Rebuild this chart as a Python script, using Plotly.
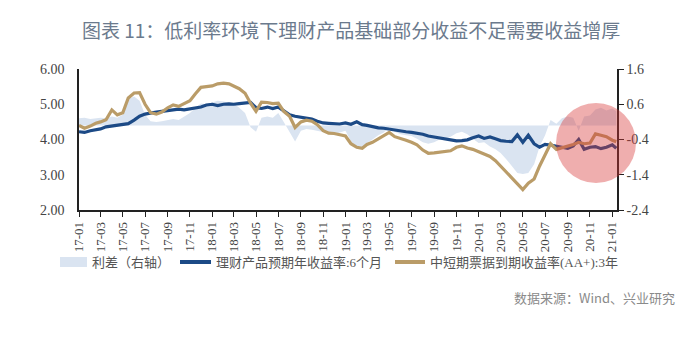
import plotly.graph_objects as go

# Semi-monthly observation dates, Jan 2017 to mid-Jan 2021
dates = []
for yr in range(2017, 2021):
    for mo in range(1, 13):
        dates += [f"{yr}-{mo:02d}-01", f"{yr}-{mo:02d}-16"]
dates += ["2021-01-01", "2021-01-12"]

# 理财产品预期年收益率:6个月 (%)
wmp_6m = [
    4.22, 4.20, 4.25, 4.28, 4.30, 4.36, 4.38, 4.40, 4.42, 4.45,
    4.55, 4.66, 4.72, 4.76, 4.78, 4.80, 4.82, 4.83, 4.86, 4.84,
    4.87, 4.88, 4.92, 4.98, 5.00, 4.96, 5.00, 5.01, 5.00, 5.02,
    5.03, 5.05, 4.90, 4.88, 4.92, 4.88, 4.92, 4.82, 4.70, 4.66,
    4.63, 4.60, 4.58, 4.52, 4.47, 4.46, 4.45, 4.44, 4.47, 4.43,
    4.50, 4.42, 4.40, 4.36, 4.33, 4.32, 4.29, 4.26, 4.24, 4.22,
    4.20, 4.18, 4.15, 4.10, 4.07, 4.03, 4.00, 3.98, 3.96, 3.97,
    3.99, 4.05, 4.10, 4.03, 4.07, 4.02, 3.97, 3.95, 3.94, 4.13,
    3.92, 4.12, 3.88, 3.78, 3.86, 3.84, 3.82, 3.78, 3.75, 3.82,
    4.00, 3.72, 3.78, 3.80, 3.74, 3.78,
    3.85, 3.75,
]

# 中短期票据到期收益率(AA+):3年 (%)
mtn_3y = [
    4.40, 4.32, 4.38, 4.46, 4.50, 4.56, 4.84, 4.70, 4.76, 5.18,
    5.32, 5.33, 5.00, 4.76, 4.72, 4.78, 4.90, 4.98, 4.94, 5.02,
    5.10, 5.30, 5.48, 5.50, 5.52, 5.58, 5.60, 5.58, 5.52, 5.44,
    5.31, 5.03, 4.80, 5.06, 5.05, 5.02, 5.03, 4.80, 4.66, 4.34,
    4.50, 4.55, 4.52, 4.42, 4.25, 4.18, 4.17, 4.13, 4.10, 3.88,
    3.78, 3.75, 3.86, 3.92, 4.02, 4.10, 4.20, 4.08, 4.04, 3.98,
    3.92, 3.85, 3.70, 3.61, 3.62, 3.64, 3.65, 3.68, 3.78, 3.82,
    3.76, 3.72, 3.65, 3.58, 3.52, 3.40, 3.25, 3.08, 2.92, 2.74,
    2.58, 2.76, 2.88, 3.25, 3.58, 3.88, 3.72, 3.76, 3.80, 3.86,
    3.92, 3.88, 3.90, 4.16, 4.12, 4.08,
    3.98, 3.94,
]

# 利差（右轴）
spread = [
    0.20, 0.22, 0.18, 0.20, 0.22, 0.20, 0.25, 0.22, 0.30, 0.75,
    0.82, 0.70, 0.30, 0.12, 0.10, 0.12, 0.15, 0.18, 0.15, 0.25,
    0.35, 0.50, 0.62, 0.60, 0.65, 0.70, 0.68, 0.65, 0.62, 0.50,
    0.35, -0.05, -0.18, 0.22, 0.25, 0.22, 0.35, 0.10, -0.20, -0.46,
    -0.15, -0.10, -0.12, -0.15, -0.20, -0.22, -0.25, -0.20, -0.15, -0.45,
    -0.62, -0.62, -0.50, -0.40, -0.28, -0.20, -0.05, -0.18, -0.25, -0.28,
    -0.30, -0.38, -0.48, -0.52, -0.48, -0.40, -0.38, -0.32, -0.22, -0.18,
    -0.25, -0.38, -0.50, -0.48, -0.60, -0.68, -0.78, -0.95, -1.15, -1.35,
    -1.38, -1.35, -1.10, -0.60, -0.28, 0.15, 0.05, 0.20, 0.25, 0.22,
    -0.15, 0.25, 0.28, 0.45, 0.50, 0.42,
    0.48, 0.40,
]

# Bimonthly tick labels
tick_vals = []
tick_text = []
for yr in range(2017, 2022):
    for mo in range(1, 13, 2):
        if yr == 2021 and mo > 1:
            break
        tick_vals.append(f"{yr}-{mo:02d}-01")
        tick_text.append(f"{yr % 100:02d}-{mo:02d}")

left_ticks = [2.0, 3.0, 4.0, 5.0, 6.0]
right_ticks = [-2.4, -1.4, -0.4, 0.6, 1.6]

W, H = 700, 341
L, R, T, B = 79, 83, 69, 131
PW, PH = W - L - R, H - T - B

def px(x):
    return (x - L) / PW

def py(y):
    return (H - B - y) / PH

AREA = "#dae4f1"
NAVY = "#1c4a86"
GOLD = "#ba9c68"
SERIF = "Liberation Serif, Noto Sans CJK SC"
SANS = "Noto Sans CJK SC"

fig = go.Figure()

# Spread area sits on the base axis (drawn on the right) so it stays beneath the lines
fig.add_trace(go.Scatter(
    x=dates, y=spread, mode="lines", fill="tozeroy",
    fillcolor=AREA, line=dict(width=0, color=AREA),
    yaxis="y", showlegend=False, hoverinfo="skip",
))
fig.add_trace(go.Scatter(
    x=dates, y=wmp_6m, mode="lines",
    line=dict(width=3.2, color=NAVY), yaxis="y2", showlegend=False,
))
fig.add_trace(go.Scatter(
    x=dates, y=mtn_3y, mode="lines",
    line=dict(width=3.2, color=GOLD), yaxis="y2", showlegend=False,
))

fig.update_layout(
    width=W, height=H,
    margin=dict(l=L, r=R, t=T, b=B, pad=0),
    paper_bgcolor="white", plot_bgcolor="white",
    xaxis=dict(
        type="date", range=["2017-01-01", "2021-01-14"],
        tickvals=tick_vals, ticktext=tick_text, tickangle=-90,
        ticks="outside", ticklen=5, tickwidth=1.3, tickcolor="#222",
        showline=True, linecolor="#222", linewidth=1.5,
        showgrid=False, zeroline=False,
        tickfont=dict(family=SERIF, size=13, color="#444"),
    ),
    yaxis=dict(
        side="right", range=[-2.4, 1.6],
        tickvals=right_ticks, ticktext=[f"{v:.1f}" for v in right_ticks],
        ticks="outside", ticklen=5, tickwidth=1.3, tickcolor="#222",
        showline=True, linecolor="#222", linewidth=1.5,
        showgrid=False, zeroline=False,
        tickfont=dict(family=SERIF, size=14, color="#444"),
    ),
    yaxis2=dict(
        overlaying="y", side="left", range=[2.0, 6.0],
        tickvals=left_ticks, ticktext=[f"{v:.2f}" for v in left_ticks],
        ticks="", showline=True, linecolor="#222", linewidth=1.5,
        showgrid=False, zeroline=False, ticklabelstandoff=10,
        tickfont=dict(family=SERIF, size=14, color="#444"),
    ),
    showlegend=False,
)

shapes = [
    # highlight circle over the latest period
    dict(type="circle", xref="paper", yref="paper", layer="above",
         x0=px(556), x1=px(636), y0=py(183), y1=py(103),
         fillcolor="rgba(214,52,52,0.40)", line=dict(width=0)),
    # legend swatches
    dict(type="rect", xref="paper", yref="paper",
         x0=px(60), x1=px(87), y0=py(267), y1=py(257),
         fillcolor=AREA, line=dict(width=0)),
    dict(type="line", xref="paper", yref="paper",
         x0=px(180), x1=px(211), y0=py(262), y1=py(262),
         line=dict(color=NAVY, width=4)),
    dict(type="line", xref="paper", yref="paper",
         x0=px(395), x1=px(425), y0=py(262), y1=py(262),
         line=dict(color=GOLD, width=4)),
]
fig.update_layout(shapes=shapes)

annotations = [
    dict(text="图表 11：低利率环境下理财产品基础部分收益不足需要收益增厚",
         x=px(351), y=py(30), xanchor="center", yanchor="middle",
         font=dict(family=SANS, size=19, color="#6b7a8d")),
    dict(text="利差（右轴）", x=px(90), y=py(262),
         xanchor="left", yanchor="middle",
         font=dict(family=SERIF, size=13, color="#555")),
    dict(text="理财产品预期年收益率:6个月", x=px(214), y=py(262),
         xanchor="left", yanchor="middle",
         font=dict(family=SERIF, size=13, color="#555")),
    dict(text="中短期票据到期收益率(AA+):3年", x=px(428), y=py(262),
         xanchor="left", yanchor="middle",
         font=dict(family=SERIF, size=13, color="#555")),
    dict(text="数据来源：Wind、兴业研究", x=px(677), y=py(297),
         xanchor="right", yanchor="middle",
         font=dict(family=SANS, size=13, color="#8a8a8a")),
]
for a in annotations:
    a.update(xref="paper", yref="paper", showarrow=False)
fig.update_layout(annotations=annotations)

fig.write_html("out.html")
